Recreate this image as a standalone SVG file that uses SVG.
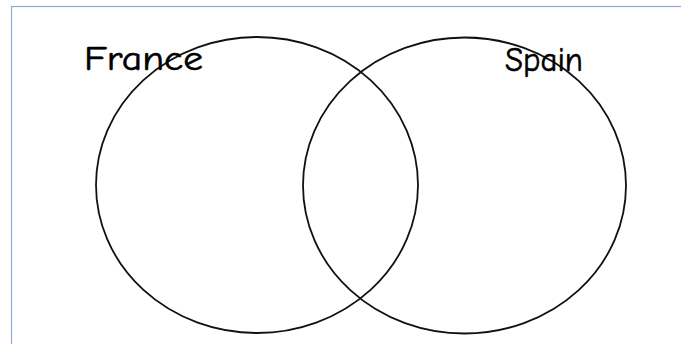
<svg xmlns="http://www.w3.org/2000/svg" width="681" height="344" viewBox="0 0 681 344">
<style>
.frame{fill:#ffffff;stroke:#8fa8d8;stroke-width:1.2}
.set{fill:none;stroke:#111111;stroke-width:1.8}
.lbl{font-family:"Comic Sans MS","Comic Neue","DejaVu Sans",sans-serif;font-size:35px;fill:#000000;stroke:#000000;stroke-width:0.6}
</style>
<rect x="0" y="0" width="681" height="344" fill="#ffffff"/>
<rect class="frame" x="11.5" y="6.5" width="680" height="350"/>
<g id="france">
<ellipse class="set" cx="257" cy="185" rx="161" ry="148"/>
<text class="lbl" x="84" y="70" textLength="119" lengthAdjust="spacingAndGlyphs">France</text>
</g>
<g id="spain">
<ellipse class="set" cx="464.5" cy="185.5" rx="161.5" ry="148"/>
<text class="lbl" x="505" y="71" textLength="78" lengthAdjust="spacingAndGlyphs">Spain</text>
</g>
<g id="connectors"></g>
</svg>
